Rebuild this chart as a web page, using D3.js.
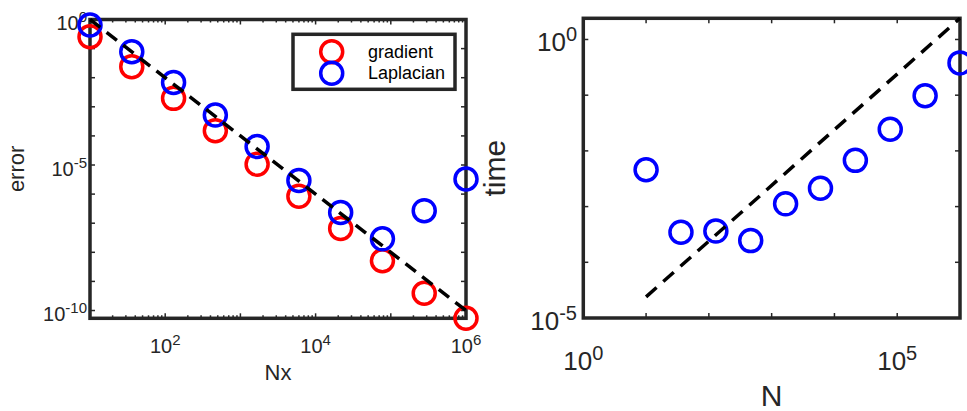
<!DOCTYPE html>
<html>
<head>
  <style>
    body { margin: 0; background: white; }
    svg { display: block; font-family: "Liberation Sans", Arial, Helvetica, sans-serif; }
  </style>
</head>
<body>
  <div id="chart"></div>

  <script src="https://cdnjs.cloudflare.com/ajax/libs/d3/7.8.5/d3.min.js"></script>
  <script>
    // left panel: error vs Nx
    const nx = [10, 35.94, 129.2, 464.2, 1668, 5995, 21544, 77426, 278256, 1e6];
    const gradErr = [2.57e-1, 2.40e-2, 1.95e-3, 1.51e-4, 1.07e-5, 8.5e-7, 6.6e-8, 5.1e-9, 3.9e-10, 5.4e-11];
    const lapErr = [6.46e-1, 7.76e-2, 6.8e-3, 5.2e-4, 4.3e-5, 2.95e-6, 2.34e-7, 2.9e-8, 2.7e-7, 3.3e-6];
    const refNx = [10, 1e6];
    const refErr = [1, 1e-10];
    const leftXTicks = [1e2, 1e4, 1e6];
    const leftXLabels = ["2", "4", "6"];
    const leftYTicks = [1e0, 1e-5, 1e-10];
    const leftYLabels = ["0", "-5", "-10"];
    const legendNames = ["gradient", "Laplacian"];

    // right panel: time vs N
    const nSize = [10, 35.94, 129.2, 464.2, 1668, 5995, 21544, 77426, 278256, 1e6];
    const timeVals = [4.57e-3, 3.47e-4, 3.63e-4, 2.45e-4, 1.12e-3, 2.14e-3, 6.76e-3, 2.45e-2, 9.77e-2, 3.80e-1];
    const refN = [10, 1e6];
    const refTime = [2.4e-5, 2.4];
    const rightXTicks = [1e0, 1e5];
    const rightXLabels = ["0", "5"];
    const rightYTicks = [1e0, 1e-5];
    const rightYLabels = ["0", "-5"];

    const W = 967, H = 411;
    const axisColor = "#262626";

    const svg = d3.select("#chart").append("svg")
      .attr("width", W)
      .attr("height", H);

    function decades(a, b) {
      const out = [];
      for (let e = Math.round(Math.log10(a)); e <= Math.round(Math.log10(b)); e++) out.push(Math.pow(10, e));
      return out;
    }

    function powText(g, x, y, sup, size, supSize, shift, anchor) {
      const t = g.append("text")
        .attr("x", x).attr("y", y)
        .attr("font-size", size)
        .attr("fill", axisColor)
        .attr("text-anchor", anchor);
      t.append("tspan").text("10");
      t.append("tspan").attr("font-size", supSize).attr("dy", -shift).text(sup);
    }

    // ---------- left panel ----------
    const lx = d3.scaleLog().domain([10, 1e6]).range([90, 466]);
    const lyDomain = d3.extent(gradErr.concat(lapErr, refErr));
    const ly = d3.scaleLog().domain(lyDomain).range([318.3, 19.5]);
    const left = svg.append("g");

    // ticks (inward, on all four sides)
    decades(10, 1e6).forEach(d => {
      [[318.3, -5], [19.5, 5]].forEach(([y0, len]) => {
        left.append("line").attr("x1", lx(d)).attr("x2", lx(d)).attr("y1", y0).attr("y2", y0 + len)
          .attr("stroke", axisColor).attr("stroke-width", 1.5);
      });
      if (d < 1e6) {
        for (let k = 2; k <= 9; k++) {
          [[318.3, -3], [19.5, 3]].forEach(([y0, len]) => {
            left.append("line").attr("x1", lx(d * k)).attr("x2", lx(d * k)).attr("y1", y0).attr("y2", y0 + len)
              .attr("stroke", axisColor).attr("stroke-width", 1.5);
          });
        }
      }
    });
    decades(1e-10, 1).forEach(d => {
      [[90, 5], [466, -5]].forEach(([x0, len]) => {
        left.append("line").attr("x1", x0).attr("x2", x0 + len).attr("y1", ly(d)).attr("y2", ly(d))
          .attr("stroke", axisColor).attr("stroke-width", 1.5);
      });
    });

    left.append("rect")
      .attr("x", 90).attr("y", 19.5)
      .attr("width", 466 - 90).attr("height", 318.3 - 19.5)
      .attr("fill", "none")
      .attr("stroke", axisColor)
      .attr("stroke-width", 3.5);

    leftXTicks.forEach((d, i) => powText(left, lx(d), 352.5, leftXLabels[i], 20, 15, 8, "middle"));
    leftYTicks.forEach((d, i) => powText(left, 87, ly(d) + 10.5, leftYLabels[i], 20, 15, 8, "end"));

    left.append("text")
      .attr("x", (90 + 466) / 2).attr("y", 380)
      .attr("text-anchor", "middle")
      .attr("font-size", 22)
      .attr("fill", axisColor)
      .text("Nx");

    left.append("text")
      .attr("transform", `translate(24,${(19.5 + 318.3) / 2}) rotate(-90)`)
      .attr("text-anchor", "middle")
      .attr("font-size", 22)
      .attr("fill", axisColor)
      .text("error");

    left.selectAll("circle.grad")
      .data(nx.map((d, i) => [d, gradErr[i]]))
      .join("circle")
      .attr("class", "grad")
      .attr("cx", d => lx(d[0])).attr("cy", d => ly(d[1]))
      .attr("r", 11)
      .attr("fill", "none").attr("stroke", "#ff0000").attr("stroke-width", 3.5);

    left.selectAll("circle.lap")
      .data(nx.map((d, i) => [d, lapErr[i]]))
      .join("circle")
      .attr("class", "lap")
      .attr("cx", d => lx(d[0])).attr("cy", d => ly(d[1]))
      .attr("r", 11)
      .attr("fill", "none").attr("stroke", "#0000ff").attr("stroke-width", 3.5);

    left.append("path")
      .datum(refNx.map((d, i) => [d, refErr[i]]))
      .attr("d", d3.line().x(d => lx(d[0])).y(d => ly(d[1])))
      .attr("fill", "none")
      .attr("stroke", "black")
      .attr("stroke-width", 3.5)
      .attr("stroke-dasharray", "13,8");

    // legend
    const legend = left.append("g");
    legend.append("rect")
      .attr("x", 293).attr("y", 34.3)
      .attr("width", 162).attr("height", 55)
      .attr("fill", "white")
      .attr("stroke", axisColor)
      .attr("stroke-width", 3.5);
    const legendColors = ["#ff0000", "#0000ff"];
    legendNames.forEach((name, i) => {
      legend.append("circle")
        .attr("cx", 331.7).attr("cy", 51.7 + i * 21.6)
        .attr("r", 11)
        .attr("fill", "none").attr("stroke", legendColors[i]).attr("stroke-width", 3.5);
      legend.append("text")
        .attr("x", 368).attr("y", 57.5 + i * 21.6)
        .attr("font-size", 18)
        .attr("fill", "black")
        .text(name);
    });

    // ---------- right panel ----------
    const rx = d3.scaleLog().domain([1, 1e6]).range([583.3, 960]);
    const ry = d3.scaleLog().domain([1e-5, d3.max(refTime)]).range([318, 18.3]);
    const right = svg.append("g");

    decades(1, 1e6).forEach(d => {
      [[318, -5], [18.3, 5]].forEach(([y0, len]) => {
        right.append("line").attr("x1", rx(d)).attr("x2", rx(d)).attr("y1", y0).attr("y2", y0 + len)
          .attr("stroke", axisColor).attr("stroke-width", 1.5);
      });
    });
    decades(1e-5, 1).forEach(d => {
      [[583.3, 5], [960, -5]].forEach(([x0, len]) => {
        right.append("line").attr("x1", x0).attr("x2", x0 + len).attr("y1", ry(d)).attr("y2", ry(d))
          .attr("stroke", axisColor).attr("stroke-width", 1.5);
      });
    });

    right.append("rect")
      .attr("x", 583.3).attr("y", 18.3)
      .attr("width", 960 - 583.3).attr("height", 318 - 18.3)
      .attr("fill", "none")
      .attr("stroke", axisColor)
      .attr("stroke-width", 3.5);

    rightXTicks.forEach((d, i) => powText(right, rx(d), 370, rightXLabels[i], 26, 20, 10, "middle"));
    rightYTicks.forEach((d, i) => powText(right, 577, ry(d) + 12, rightYLabels[i], 26, 20, 10, "end"));

    right.append("text")
      .attr("x", (583.3 + 960) / 2).attr("y", 406)
      .attr("text-anchor", "middle")
      .attr("font-size", 30)
      .attr("fill", axisColor)
      .text("N");

    right.append("text")
      .attr("transform", `translate(505,${(18.3 + 318) / 2}) rotate(-90)`)
      .attr("text-anchor", "middle")
      .attr("font-size", 30)
      .attr("fill", axisColor)
      .text("time");

    right.selectAll("circle.time")
      .data(nSize.map((d, i) => [d, timeVals[i]]))
      .join("circle")
      .attr("class", "time")
      .attr("cx", d => rx(d[0])).attr("cy", d => ry(d[1]))
      .attr("r", 11)
      .attr("fill", "none").attr("stroke", "#0000ff").attr("stroke-width", 3.5);

    right.append("path")
      .datum(refN.map((d, i) => [d, refTime[i]]))
      .attr("d", d3.line().x(d => rx(d[0])).y(d => ry(d[1])))
      .attr("fill", "none")
      .attr("stroke", "black")
      .attr("stroke-width", 3.5)
      .attr("stroke-dasharray", "14,9");
  </script>
</body>
</html>
